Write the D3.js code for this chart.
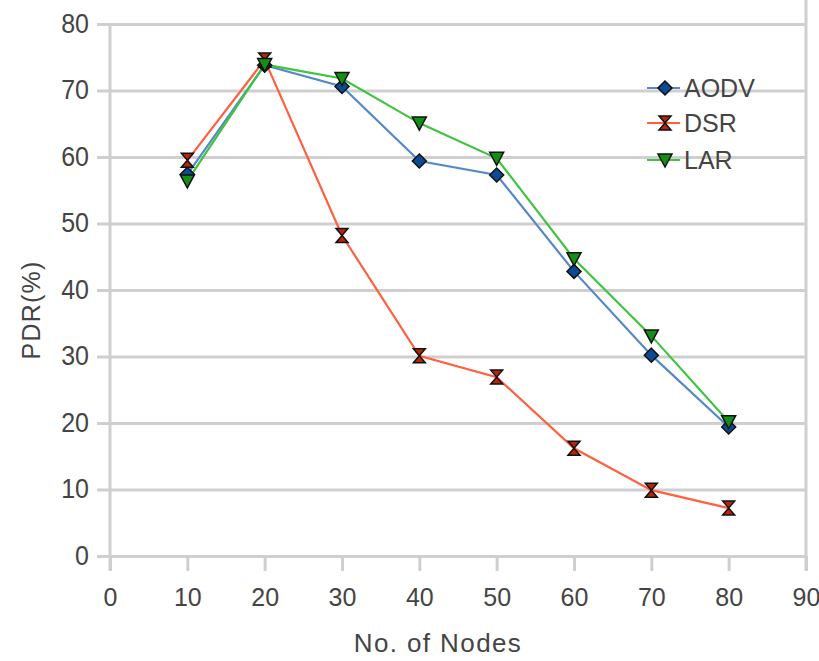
<!DOCTYPE html>
<html><head><meta charset="utf-8">
<script src="https://cdn.jsdelivr.net/npm/d3@7"></script>
<style>body{margin:0;background:#fff}svg{display:block}text{font-family:"Liberation Sans",Arial,sans-serif}</style>
</head><body><svg id="c" width="819" height="661"></svg>
<script>
const nodes=[10,20,30,40,50,60,70,80];
const aodv=[57.4,73.8,70.6,59.4,57.3,42.8,30.2,19.4];
const dsr=[59.5,74.6,48.2,30.1,26.9,16.2,9.9,7.2];
const lar=[56.4,73.9,71.8,65.1,59.8,44.7,33.1,20.2];
const xTicks=[0,10,20,30,40,50,60,70,80,90];
const yTicks=[0,10,20,30,40,50,60,70,80];
const seriesNames=["AODV","DSR","LAR"];

const svg=d3.select("#c");
const x=d3.scaleLinear().domain([0,90]).range([110,806]);
const y=d3.scaleLinear().domain([0,80]).range([556,24]);
const grid="#cfcfcf", txt="#444";

svg.append("g").attr("transform","translate(110,0)")
  .call(d3.axisLeft(y).tickValues(yTicks).tickSize(-696).tickSizeOuter(0).tickPadding(21))
  .call(g=>g.select(".domain").remove())
  .call(g=>g.selectAll(".tick line").attr("x1",-13).attr("stroke",grid).attr("stroke-width",3))
  .call(g=>g.selectAll(".tick text").attr("fill",txt).attr("font-size",25).attr("dy","0.3em").attr("transform","scale(1,1.12)"));
svg.append("g").attr("transform","translate(0,556)")
  .call(d3.axisBottom(x).tickValues(xTicks).tickSize(15).tickSizeOuter(0))
  .call(g=>g.select(".domain").remove())
  .call(g=>g.selectAll(".tick line").attr("stroke",grid).attr("stroke-width",3))
  .call(g=>g.selectAll(".tick text").attr("fill",txt).attr("font-size",25).attr("y",42).attr("dy","0.3em"));
svg.append("line").attr("x1",x(0)).attr("x2",x(0)).attr("y1",y(80)).attr("y2",571).attr("stroke",grid).attr("stroke-width",3);
svg.append("line").attr("x1",x(90)).attr("x2",x(90)).attr("y1",0).attr("y2",571).attr("stroke",grid).attr("stroke-width",3);

const cfg=[
 {name:"AODV",vals:aodv,line:"#5588c8",fill:"#0b4a95",shape:"diamond"},
 {name:"DSR",vals:dsr,line:"#ff6040",fill:"#b8250a",shape:"bow"},
 {name:"LAR",vals:lar,line:"#40c440",fill:"#139013",shape:"tri"}
];
function marker(g,shape,cx,cy,fill){
  let p;
  if(shape==="diamond") p=`M${cx},${cy-7}L${cx+7},${cy}L${cx},${cy+7}L${cx-7},${cy}Z`;
  else if(shape==="bow") p=`M${cx-6},${cy-7}L${cx+6},${cy-7}L${cx},${cy}L${cx+6},${cy+7}L${cx-6},${cy+7}L${cx},${cy}Z`;
  else p=`M${cx-7},${cy-6}L${cx+7},${cy-6}L${cx},${cy+7}Z`;
  g.append("path").attr("d",p).attr("fill",fill).attr("stroke","#111").attr("stroke-width",1.5);
}
const line=d3.line().x((d,i)=>x(nodes[i])).y(d=>y(d));
cfg.forEach(s=>{
  svg.append("path").datum(s.vals).attr("d",line).attr("fill","none").attr("stroke",s.line).attr("stroke-width",2.2);
});
cfg.forEach(s=>{
  const g=svg.append("g");
  s.vals.forEach((v,i)=>marker(g,s.shape,x(nodes[i]),y(v),s.fill));
});
cfg.forEach((s,i)=>{
  const ly=[88,123,160][i];
  svg.append("line").attr("x1",647).attr("x2",680).attr("y1",ly).attr("y2",ly).attr("stroke",s.line).attr("stroke-width",2.2);
  marker(svg.append("g"),s.shape,665,ly,s.fill);
  svg.append("text").attr("x",684).attr("y",ly).attr("dy","0.36em").attr("font-size",25).attr("fill",txt).text(seriesNames[i]);
});
svg.append("text").attr("x",438).attr("y",652).attr("text-anchor","middle").attr("font-size",26).attr("letter-spacing",1.4).attr("fill",txt).text("No. of Nodes");
svg.append("text").attr("transform","translate(40,310) rotate(-90)").attr("text-anchor","middle").attr("font-size",25).attr("letter-spacing",1.2).attr("fill",txt).text("PDR(%)");
</script></body></html>
